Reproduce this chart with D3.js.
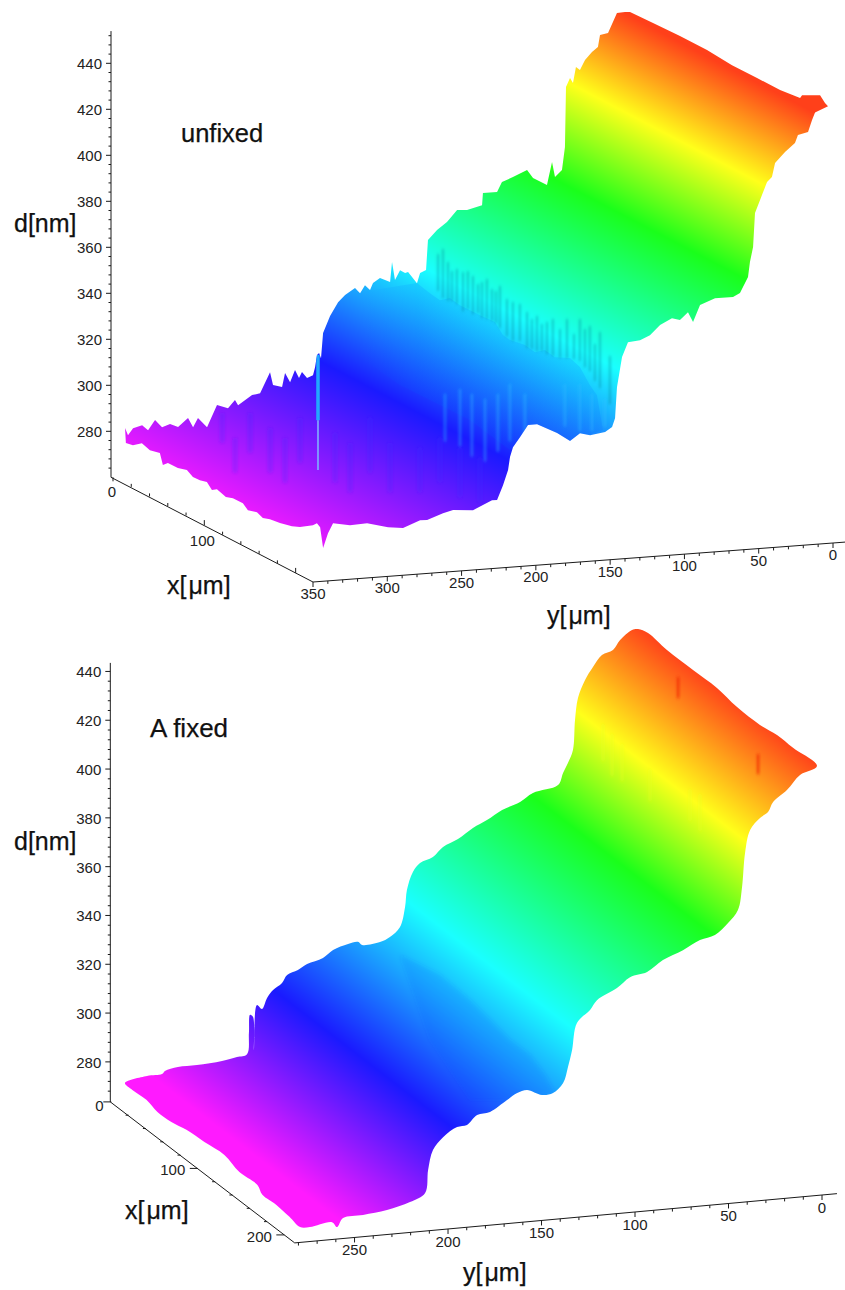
<!DOCTYPE html>
<html><head><meta charset="utf-8">
<script src="https://cdn.jsdelivr.net/npm/d3@7/dist/d3.min.js"></script>
<style>html,body{margin:0;padding:0;background:#fff}svg{display:block}text{font-family:"Liberation Sans",Arial,sans-serif}</style>
</head><body><svg id="c" width="845" height="1290"></svg>
<script>
// ---------- TOP PANEL ("unfixed") ----------
const topFarY=[341.9,339.9,336.5,330.4,326.4,321.7,317,311.6,306.2,299.5,296.1,292.8,286.7,280,272.6,267.9,265.8,256.4,251,244.3,242.3,236.2,234.2,230.8,227.5,224.8,222.8,219.4,215.4,214,212.7,211.3,210,208.6,203.9,198.5,193.8,187.1,183.7,180.4,177,175,170.3,163.5,162.2,160.2,156.8,153.4,151.4,145.4,143.3,139.3,138,131.9,125.2,118.4,111.7,101.6,101,91.5,88.2,80.8,71.3,67.3,57.9,54.5,52.5,47.8,45.8,45.1,42.4,40.4,38.4,35.7,32.3,27.6,23.6,22.2,16.8,10.8,5.4];
const topFarD=[281,277.8,280.7,281.7,279.3,283.5,280.2,281.3,279.7,283.3,279.2,283,278.7,288,286.3,289.6,287.3,291.2,291.8,300.6,294.9,293.7,299.7,295.6,300.7,297.1,299.6,296.8,297.9,301.3,306.5,307.3,305,315.9,323,328.8,331.7,334.4,332,335.3,333,336,337.9,335.9,344.5,336.6,340.7,339.3,339.6,334.5,338.8,339.9,352.9,357,360.1,365,364.7,366.3,371.5,371.5,375.7,377.5,380.1,376.4,372.9,382.8,376.1,379,388.9,414.9,418.7,416.4,423.3,421.9,426,429.3,431.3,436.4,437,445.4,445.6];
const topEndX=[6.5,31.7,61.2,90.8,118.2,145.6,170.8,192.7,194.9,214.6,220,223.3];
const topEndD=[447,447.4,447.9,448,447.1,447.2,447.2,448.3,450,454.1,451.8,451.1];
const topNearY=[12.1,14.1,16.8,23.6,25.6,32.3,39,41.1,44.4,49.1,52.5,53.8,55.9,57.2,62.6,67.3,79.4,89.5,94.2,97.6,103,108.4,116.4,123.2,129.9,138,142,145.4,146.7,148.7,153.4,163.5,170.3,177,185.7,199.2,205.3,210.6,215.4,217.4,218.7,222.1,226.1,229.5,242.3,255.7,262.5,273.2,277.9,289.4,299.5,313.6,325.1,336.5,339.9,343.2,345.2];
const topNearD=[447.8,444.6,439.5,438.5,435.1,431.6,427.1,421.1,419.1,411.5,406,391.3,384.9,378.4,371.7,370.2,370.3,367.8,360.6,365.1,361.9,363,360.4,356.3,354.5,354,347.7,334.8,321.4,317.6,315.7,314.8,316,312.9,316.8,321.3,321.2,316.3,312.1,307.9,302.3,295.9,289.6,289.7,286,286.7,285.7,283.2,283.4,280.5,281.4,283.8,283.5,284.9,280.7,274.4,283.6];
const topBackX=[210.3,205.9,191.7,182.9,169.8,158.8,151.1,144.6,134.7,129.2,118.3,110.6,100.8,95.3,89.8,82.1,74.5,67.9,58,47.1,41.6,38.3,27.4,18.6,8.8,1.1];
const topBackD=[283.4,281.6,277.8,276.4,275,274.4,273.3,274.5,273.3,275.2,275.1,274,275.4,273.9,276.2,275.4,275.2,276.9,275.7,275.6,273.6,278.1,277.1,278.3,275.4,274.7];
// colour profile: stations along y with the surface height and hue there
const topColorY=[5.4,35,60,138,222,342];
const topColorD=[445,413.5,378,340,308,274];
const topHue=[10,60,120,180,240,294];
// shaded streaks on the upper terrace (y, top d, bottom d) at x = 100
const topShadeY=[189.4,186,180,175.9,169.2,163.1,156.4,151,142.3,132.8,126.1,119.4,110.6,105.9,97.2,90.5,83.7,77,192.7,183.3,172.6,165.8,159.8,153.7,146.3,137.6,129.5,122.8,115.4,101.2,93.8,87.1];
const topShadeHi=[371.8,366,362.7,361.1,359.1,356.2,352.8,353.9,346.5,341.7,339.6,336.7,333.2,337.3,336.9,333.5,330.6,319.8,369.8,361.9,361.3,355.4,357.3,351.8,348,345.4,338.5,336,337.8,330.6,332.4,325.6];
const topShadeLo=[351.3,349.9,348.3,345,343.4,341.4,339.8,336.5,330.4,326.9,325.3,323.6,321.5,321.2,319.5,314.8,307.1,299.8,354.6,349.7,345.7,343.7,340.8,338.7,332.7,330.2,326.3,325.1,322.6,320.6,316.7,310.3];
const topLightY=[188,177.9,169.9,161.1,152.4,144.3,134.2,107.3,97.2,89.1,80.3];
const topLightHi=[308.7,310.3,307.8,305.2,307,310.9,306.1,309.1,308.7,303.9,301.3];
const topLightLo=[289.1,286.4,281.7,279.1,283,287,286.5,291.7,289.1,288.7,290.4];
const topBumpY=[338,329.3,319.2,305.7,295.7,285.6,262,251.9,238.5,225,204.9,191.4,177.9,164.5];
const topBumpHi=[307.2,295.9,306.3,299.1,294.3,302.5,294.9,290,300.3,288.7,285.6,289.3,284.3,279.3];
const topBumpLo=[296.3,282.9,291.1,281.7,276.9,285.1,275.3,270.5,278.5,269.2,268.2,271.9,264.7,261.9];
// lower terrace outline at x = 100
const topRidgeY=[245.3,206.9,198.1,191.4,184.7,178,171.2,164.5,154.4,149,144.3,134.2,127.5,120.8,114,103.9,97.2,90.5,85.7,81.7,103.9,126.1,144.3,171.2,218.3,251.9];
const topRidgeD=[356.2,358.3,353.5,350.1,350.7,347.3,344.8,342.3,338.8,332.9,330.5,327.8,324.4,325,321.6,320.7,316.5,308.3,303.7,288.3,285,293.1,282.7,297,314.5,331.3];
// isolated spikes (y, top d, bottom d) at x = 100
const topSpikeY=[273.5,273.5,272,214.2];
const topSpikeHi=[330.2,301.9,273.6,294.7];
const topSpikeLo=[301.9,280.2,260.6,279.5];

// ---------- BOTTOM PANEL ("A fixed") ----------
const botFarY=[274.7,262.9,254.9,253.3,246.4,236.2,222.8,214.8,209.4,208.4,207.8,206.2,205.7,204.1,201.4,198.7,195.5,190.7,188,182.2,177.3,168.8,163.4,155.4,150.1,147.9,138.3,133,127.6,124.9,123.9,120.7,116.9,110,104.6,96.6,88.6,81.1,73,63.4,56.5,43.1,40.4,37.8,35.1,34,32.4,28.7,24.4,19.6,13.7,9.9,3.5,0.3];
const botFarD=[270.8,272.9,273.1,274.3,275.4,275.5,276.2,277.3,278.1,286.7,294.1,293.1,279.5,297.9,296.1,300.4,303.4,306,309.1,310.7,312.8,314.7,317.6,319.5,320,318.6,319.1,320.8,324.5,332.5,339.4,346.6,350,352,355.7,358.4,362.4,365.1,368.7,371.3,374.5,376.8,381.6,385.5,390.6,402.8,411.8,418.8,423.9,428.5,430.1,433.9,437.6,437.8];
const botEndX=[10.9,32.8,62.9,90.6,113.8,140.3,160,178.5,206.2];
const botEndD=[439.1,438.1,438.1,438.3,436.8,436.7,437.9,437.7,437.8];
const botNearY=[9.9,16.8,24.3,27,31.3,36.6,39.3,40.9,43.1,48.4,55.4,63.4,72.5,83.2,91.7,100.8,107.8,118.5,122.2,129.2,131.8,134,136.6,142,147.9,155.9,161.2,166.6,175.7,182.6,188,193.3,200.8,206.2,208.8,210.4,218.5,230.8,243.6,254.3,257.5,260.2,272,277.3];
const botNearD=[435.3,429.7,425.2,421.3,419.2,414.6,405.4,391.6,382.3,377.3,372.9,371.4,367.9,364.6,360.3,358.8,354.8,350.6,346.8,342,331.1,324.3,317.9,314.2,313.8,316.4,315.5,313,308.8,308,304.3,303.8,300.2,295.3,287.3,278,274.8,272.4,271.3,270.8,267.3,269.5,268.3,268.7];
const botBackX=[190.8,175.7,159.5,153.8,132.9,115.6,92.5,71.7,54.3,38.2,25.4,9.2];
const botBackD=[268,268.8,268.5,271,270.6,272.9,271.9,271.2,269.7,269.4,270.9,270.5];
const botColorY=[0,34,58,124,194.6,258];
const botColorD=[438,407,374,335,303,271];
const botHue=[12,60,120,180,240,300];
const botSpikeX=[100,170];
const botSpikeY=[25.2,14.8];
const botSpikeHi=[446.7,433.5];
const botSpikeLo=[438.9,426.1];
const botStreakY=[65.3,60.5,55.1,40.2,18.8,13.4];
const botStreakHi=[430.2,425.8,421.3,410,400.4,397.9];
const botStreakLo=[415.9,409.4,407,397.7,388.1,383.6];
const botBlockY=[173.9,152.5,136.4,125.7,115,104.3,96.3,91,117.7,136.4,157.8];
const botBlockD=[343.5,333.8,322.5,313.6,304.6,297.7,289,281.2,280.2,281.5,307.6];

// ---------- tick values ----------
const dTicks=[280,300,320,340,360,380,400,420,440];
const topXTicks=[0,100];
const topYTicks=[0,50,100,150,200,250,300,350];
const botXTicks=[0,100,200];
const botYTicks=[0,50,100,150,200,250];

const svg=d3.select('#c');
const defs=svg.append('defs');
const line=d3.line();
const soft=defs.append('filter').attr('id','soft').attr('x','-30%').attr('y','-30%').attr('width','160%').attr('height','160%');
soft.append('feGaussianBlur').attr('stdDeviation','0.9 1.6');
const softer=defs.append('filter').attr('id','softer').attr('x','-30%').attr('y','-30%').attr('width','160%').attr('height','160%');
softer.append('feGaussianBlur').attr('stdDeviation','2');

function panel(o){
  const sxY=d3.scaleLinear().domain(o.yDom).range(o.sxYr);
  const syY=d3.scaleLinear().domain(o.yDom).range(o.syYr);
  const sxX=d3.scaleLinear().domain(o.xDom).range(o.sxXr);
  const syX=d3.scaleLinear().domain(o.xDom).range(o.syXr);
  const syD=d3.scaleLinear().domain(o.dDom).range(o.syDr);
  const P=(x,y,d)=>[sxY(y)+sxX(x),syY(y)+syX(x)+syD(d)];
  const g=svg.append('g');

  // gradient across the terraces: colour follows height, isolines follow the x axis
  const hue=d3.scaleLinear().domain(o.colorD).range(o.hues);
  const m=(syX(o.xDom[1])-syX(o.xDom[0]))/(sxX(o.xDom[1])-sxX(o.xDom[0]));
  const T=p=>p[1]-m*p[0];
  const ts=o.colorY.map((y,i)=>T(P(0,y,o.colorD[i])));
  const t0=ts[0],t1=ts[ts.length-1];
  const A=P(0,o.colorY[0],o.colorD[0]);
  const k=(t1-t0)/(1+m*m);
  const gr=defs.append('linearGradient').attr('id',o.id+'G').attr('gradientUnits','userSpaceOnUse')
    .attr('x1',A[0]).attr('y1',A[1]).attr('x2',A[0]-m*k).attr('y2',A[1]+k);
  gr.selectAll('stop').data(o.colorD).join('stop')
    .attr('offset',(d,i)=>(ts[i]-t0)/(t1-t0))
    .attr('stop-color',d=>d3.hsl(hue(d),1,0.55).formatRgb());

  const outline=[
    ...o.farY.map((y,i)=>P(0,y,o.farD[i])),
    ...o.endX.map((x,i)=>P(x,o.yEnd,o.endD[i])),
    ...o.nearY.map((y,i)=>P(o.xNear,y,o.nearD[i])),
    ...o.backX.map((x,i)=>P(x,o.yBack,o.backD[i]))
  ];
  const gen=d3.line();
  if(o.smooth) gen.curve(d3.curveCatmullRomClosed.alpha(0.5));
  const dPath=gen(outline)+(o.smooth?'':'Z');
  defs.append('clipPath').attr('id',o.id+'C').append('path').attr('d',dPath);
  g.append('path').attr('d',dPath).attr('fill',`url(#${o.id}G)`);
  const inner=g.append('g').attr('clip-path',`url(#${o.id}C)`);
  if(o.overlay) o.overlay(inner,P);

  // axes
  const ax=svg.append('g').attr('stroke','#1a1a1a').attr('fill','none').attr('stroke-width',1);
  const corner=P(0,o.yDom[1],o.dDom[0]); corner[0]-=o.axisNudge;
  const topA=P(0,o.yDom[1],o.dTop); topA[0]-=o.axisNudge;
  const endX=P(o.xDom[1],o.yDom[1],o.dDom[0]);
  const endY=P(o.xDom[1],o.yDom[0]-o.yOver,o.dDom[0]);
  ax.append('path').attr('d',line([topA,corner,endX,endY]));
  const dMinor=d3.range(o.dMinorStart,o.dTop,4);
  ax.selectAll('path.dm').data(dMinor).join('path').attr('class','dm').attr('d',d=>{
    const p=P(0,o.yDom[1],d);const xx=p[0]-o.axisNudge;
    return line([[xx,p[1]],[xx-(d%20===0?5:2.5),p[1]]]);
  });
  ax.selectAll('path.xm').data(d3.range(0,o.xDom[1],20)).join('path').attr('class','xm').attr('d',d=>{
    const p=P(d,o.yDom[1],o.dDom[0]);
    if(o.xTickLeft) return line([p,[p[0]-(d%100===0?8:3),p[1]]]);
    return line([p,[p[0],p[1]+(d===0?4:(d%100===0?-5:-3))]]);
  });
  ax.selectAll('path.ym').data(d3.range(0,o.yDom[1]+1,10)).join('path').attr('class','ym').attr('d',d=>{
    const p=P(o.xDom[1],d,o.dDom[0]);
    return line([p,[p[0],p[1]+(d%50===0?5:3)]]);
  });

  const lab=svg.append('g').attr('font-size',15).attr('fill','#222');
  lab.selectAll('text.d').data(dTicks).join('text').attr('class','d')
    .attr('x',d=>P(0,o.yDom[1],d)[0]-o.dLabelGap).attr('y',d=>P(0,o.yDom[1],d)[1]+6)
    .attr('text-anchor','end').text(d=>d);
  lab.selectAll('text.x').data(o.xTicks).join('text').attr('class','x')
    .attr('x',d=>P(d,o.yDom[1],o.dDom[0])[0]+(o.xLabelOff(d)[0]))
    .attr('y',d=>P(d,o.yDom[1],o.dDom[0])[1]+(o.xLabelOff(d)[1]))
    .attr('text-anchor','middle').text(d=>d);
  lab.selectAll('text.y').data(o.yTicks).join('text').attr('class','y')
    .attr('x',d=>P(o.xDom[1],d,o.dDom[0])[0])
    .attr('y',d=>P(o.xDom[1],d,o.dDom[0])[1]+o.yLabelGap)
    .attr('text-anchor','middle').text(d=>d);

  const tit=svg.append('g').attr('fill','#111').attr('stroke','#111').attr('stroke-width',0.25);
  o.titles.forEach(t=>{
    const el=tit.append('text').attr('x',t.x).attr('y',t.y).attr('font-size',t.s);
    const parts=t.text.split('μ');
    el.append('tspan').text(parts[0]);
    if(parts.length>1) el.append('tspan').attr('dx',2).text('μ'+parts[1]);
  });
}

function vertical(sel,P,xAt,ys,hi,lo,stroke,width,op,filter){
  const gg=sel.append('g');
  if(filter) gg.attr('filter',`url(#${filter})`);
  gg.selectAll('path').data(ys).join('path')
    .attr('d',(y,i)=>line([P(Array.isArray(xAt)?xAt[i]:xAt,y,hi[i]),P(Array.isArray(xAt)?xAt[i]:xAt,y,lo[i])]))
    .attr('stroke',stroke).attr('stroke-width',width).attr('stroke-opacity',op).attr('fill','none')
    .attr('stroke-linecap','round');
}

panel({
  id:'top',yDom:[0,350],sxYr:[833,313],syYr:[543,582],
  xDom:[0,219],sxXr:[-200,0],syXr:[-104.7,0],
  dDom:[260,454],syDr:[0,-446.2],dTop:454,dMinorStart:264,axisNudge:2,
  farY:topFarY,farD:topFarD,endX:topEndX,endD:topEndD,yEnd:6,
  nearY:topNearY,nearD:topNearD,xNear:219,backX:topBackX,backD:topBackD,yBack:342,
  colorY:topColorY,colorD:topColorD,hues:topHue,
  xTicks:topXTicks,yTicks:topYTicks,yOver:10,dLabelGap:11,yLabelGap:17,
  xLabelOff:d=>d===0?[-1,20]:[-2,21],
  titles:[{text:'d[nm]',x:14,y:232,s:25},{text:'unfixed',x:181,y:142,s:25.5},{text:'x[μm]',x:167,y:594,s:25},{text:'y[μm]',x:547,y:624,s:25}],
  overlay:(g,P)=>{
    const a=P(100,topRidgeY[0],topRidgeD[0]),b=P(100,topRidgeY[1],topRidgeD[1]);
    const fade=defs.append('linearGradient').attr('id','topFade').attr('gradientUnits','userSpaceOnUse')
      .attr('x1',a[0]).attr('y1',0).attr('x2',b[0]).attr('y2',0);
    fade.append('stop').attr('offset',0).attr('stop-color','#0060ff').attr('stop-opacity',0);
    fade.append('stop').attr('offset',1).attr('stop-color','#0060ff').attr('stop-opacity',.14);
    g.append('path').attr('d',line(topRidgeY.map((y,i)=>P(100,y,topRidgeD[i])))+'Z').attr('fill','url(#topFade)');
    vertical(g,P,100,topShadeY,topShadeHi,topShadeLo,'#006a80',2.6,.28,'soft');
    vertical(g,P,100,topLightY,topLightHi,topLightLo,'#30c0ff',3.5,.3,'soft');
    vertical(g,P,100,topBumpY,topBumpHi,topBumpLo,'#3a20ff',6,.2,'soft');
    g.append('path').attr('d',line([P(100,topSpikeY[0],topSpikeHi[0]),P(100,topSpikeY[0],topSpikeLo[0])]))
      .attr('stroke','#20b0ff').attr('stroke-width',3.5).attr('stroke-opacity',.95);
    g.append('path').attr('d',line([P(100,topSpikeY[1],topSpikeHi[1]),P(100,topSpikeY[1],topSpikeLo[1])]))
      .attr('stroke','#80a0ff').attr('stroke-width',2).attr('stroke-opacity',.9);
    g.append('path').attr('d',line([P(100,topSpikeY[2],topSpikeHi[2]),P(100,topSpikeY[2],topSpikeLo[2])]))
      .attr('stroke','#4020ff').attr('stroke-width',4).attr('stroke-opacity',.4).attr('filter','url(#soft)');
    g.append('path').attr('d',line([P(100,topSpikeY[3],topSpikeHi[3]),P(100,topSpikeY[3],topSpikeLo[3])]))
      .attr('stroke','#2030ff').attr('stroke-width',3).attr('stroke-opacity',.55).attr('filter','url(#soft)');
  }
});

panel({
  id:'bot',yDom:[0,282],sxYr:[822,294.7],syYr:[1195,1242.9],
  xDom:[0,212],sxXr:[-183.4,0],syXr:[-141,0],
  dDom:[263.6,443.5],syDr:[0,-439],dTop:443.5,dMinorStart:268,axisNudge:1,smooth:true,
  farY:botFarY,farD:botFarD,endX:botEndX,endD:botEndD,yEnd:0,
  nearY:botNearY,nearD:botNearD,xNear:208,backX:botBackX,backD:botBackD,yBack:275,
  colorY:botColorY,colorD:botColorD,hues:botHue,
  xTicks:botXTicks,yTicks:botYTicks,yOver:8,dLabelGap:10,yLabelGap:18,xTickLeft:true,
  xLabelOff:d=>d===0?[-12,9]:[-25,7],
  titles:[{text:'d[nm]',x:14,y:850,s:25},{text:'A fixed',x:150,y:737,s:26},{text:'x[μm]',x:125,y:1219,s:25},{text:'y[μm]',x:463,y:1281,s:25}],
  overlay:(g,P)=>{
    g.append('path').attr('d',line(botBlockY.map((y,i)=>P(100,y,botBlockD[i])))+'Z')
      .attr('fill','#1040ff').attr('fill-opacity',.13).attr('filter','url(#softer)');
    vertical(g,P,100,botStreakY,botStreakHi,botStreakLo,'#e8ff20',3,.38,'soft');
    vertical(g,P,botSpikeX,botSpikeY,botSpikeHi,botSpikeLo,'#f02800',3,.6,'soft');
  }
});
</script></body></html>
